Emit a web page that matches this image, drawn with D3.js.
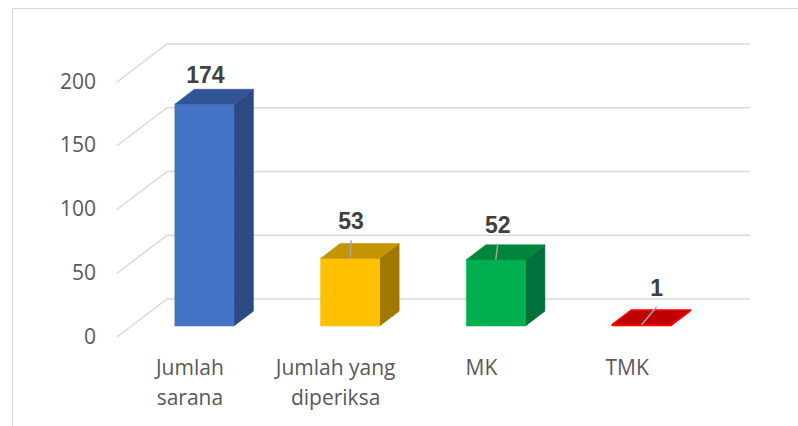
<!DOCTYPE html>
<html>
<head>
<meta charset="utf-8">
<script src="https://cdn.jsdelivr.net/npm/d3@7"></script>
<style>
  html, body { margin: 0; padding: 0; background: #fff; }
  svg { display: block; }
</style>
</head>
<body>
<svg id="chart" width="798" height="426"></svg>
<script>
// data
const categories = [["Jumlah", "sarana"], ["Jumlah yang", "diperiksa"], ["MK"], ["TMK"]];
const values = [174, 53, 52, 1];
const yTicks = [0, 50, 100, 150, 200];

// colours per bar: front, side, top
const barColors = [
  { front: "#4472C4", side: "#2C4A82", top: "#2F5597" },
  { front: "#FFC000", side: "#A07800", top: "#C49500" },
  { front: "#00B050", side: "#00713A", top: "#00853D" },
  { front: "#FF0000", side: "#B00000", top: "#C00000" }
];
// small nudges Excel applied to the data labels (relative to front-top centre)
const labelNudge = [[1, -27], [1, -35], [2, -33], [15, -35]];

const svg = d3.select("#chart");

// outer chart border
svg.append("path")
  .attr("d", "M12.5,426 L12.5,8.5 L798,8.5")
  .attr("fill", "none")
  .attr("stroke", "#d9d9d9")
  .attr("stroke-width", 1);

// 3D projection: front plane scales, depth pushes right and up
const depth = { dx: 50, dy: -38 };
const x = d3.scaleBand()
  .domain(d3.range(categories.length))
  .range([117, 700]);
const y = d3.scaleLinear().domain([0, 200]).range([337, 82]);

function proj(px, v, z) {
  return [px + depth.dx * z, y(v) + depth.dy * z];
}

// gridlines: floor-side diagonal + back wall line
const grid = svg.append("g");
yTicks.forEach(t => {
  const a = proj(x.range()[0], t, 0);
  const b = proj(x.range()[0], t, 1);
  const c = proj(x.range()[1], t, 1);
  grid.append("path")
    .attr("d", `M${a}L${b}L${c}`)
    .attr("fill", "none")
    .attr("stroke", "#d9d9d9")
    .attr("stroke-width", 1.5);
});

// y tick labels
svg.append("g").selectAll("text")
  .data(yTicks)
  .enter()
  .append("text")
  .attr("x", 96)
  .attr("y", d => y(d) + 1)
  .attr("text-anchor", "end")
  .attr("dominant-baseline", "middle")
  .attr("font-family", "Open Sans, sans-serif")
  .attr("font-size", 21)
  .attr("fill", "#595959")
  .text(d => d);

// bars
const barW = 59, z0 = 0.29, z1 = 0.68;
const bars = svg.append("g");
values.forEach((v, i) => {
  const cx = x(i) + x.bandwidth() / 2;
  const l = cx - barW / 2, r = cx + barW / 2;
  const col = barColors[i];
  const fbl = proj(l, 0, z0), fbr = proj(r, 0, z0);
  const ftl = proj(l, v, z0), ftr = proj(r, v, z0);
  const bbr = proj(r, 0, z1), btl = proj(l, v, z1), btr = proj(r, v, z1);
  const poly = (pts, c, sw, sc) => bars.append("path")
    .attr("d", "M" + pts.join("L") + "Z")
    .attr("fill", c)
    .attr("stroke", sc || c)
    .attr("stroke-width", sw)
    .attr("stroke-linejoin", "round");
  const edge = i === 3 ? "#FF0000" : null;
  poly([fbr, bbr, btr, ftr], col.side, 0.6, edge);
  poly([fbl, fbr, ftr, ftl], col.front, 0.6, edge);
  poly([ftl, ftr, btr, btl], col.top, i === 3 ? 1.5 : 0.6, edge);

  // data label + leader line
  const anchor = proj(cx, v, z0);
  const lx = anchor[0] + labelNudge[i][0];
  const ly = anchor[1] + labelNudge[i][1];
  if (-labelNudge[i][1] > 30) {
    bars.append("line")
      .attr("x1", lx).attr("y1", ly + 17)
      .attr("x2", anchor[0]).attr("y2", anchor[1])
      .attr("stroke", "#a6a6a6")
      .attr("stroke-width", 1.5);
  }
  bars.append("text")
    .attr("x", lx)
    .attr("y", ly)
    .attr("text-anchor", "middle")
    .attr("dominant-baseline", "middle")
    .attr("font-family", "Liberation Sans, Arial, sans-serif")
    .attr("font-weight", "bold")
    .attr("font-size", 23)
    .attr("fill", "#404040")
    .text(v);
});

// category labels
const catG = svg.append("g");
categories.forEach((lines, i) => {
  const t = catG.append("text")
    .attr("x", x(i) + x.bandwidth() / 2)
    .attr("y", 375)
    .attr("text-anchor", "middle")
    .attr("font-family", "Open Sans, sans-serif")
    .attr("font-size", 21)
    .attr("fill", "#595959");
  lines.forEach((s, k) => {
    t.append("tspan")
      .attr("x", x(i) + x.bandwidth() / 2)
      .attr("dy", k === 0 ? 0 : 30)
      .text(s);
  });
});
</script>
</body>
</html>
